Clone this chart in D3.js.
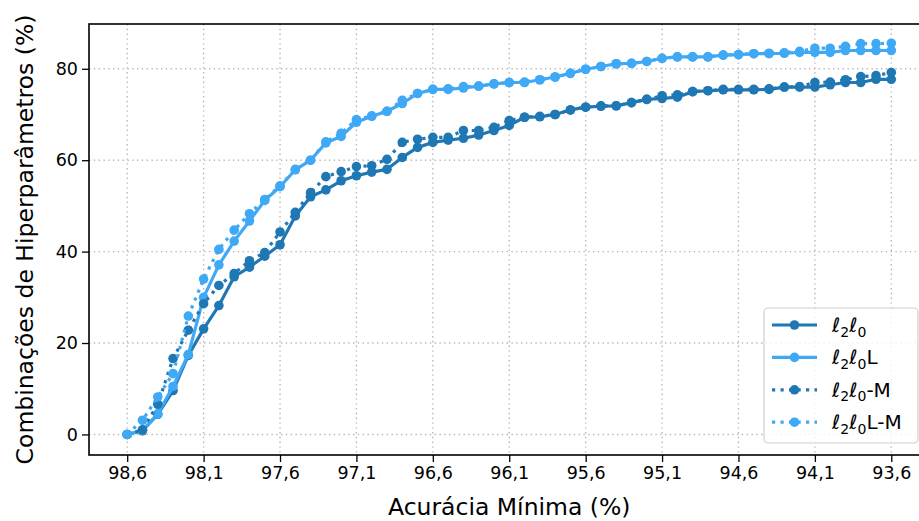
<!DOCTYPE html>
<html>
<head>
<meta charset="utf-8">
<script src="https://cdn.jsdelivr.net/npm/d3@7"></script>
<style>
  body { margin: 0; background: #fff; }
  svg { display: block; font-family: "DejaVu Sans", sans-serif; }
</style>
</head>
<body>
<svg id="chart" width="919" height="521"></svg>
<script>
// Minimum accuracy thresholds (%), one point per 0.1 step
const accuracy = [
  98.6, 98.5, 98.4, 98.3, 98.2, 98.1, 98.0, 97.9, 97.8, 97.7,
  97.6, 97.5, 97.4, 97.3, 97.2, 97.1, 97.0, 96.9, 96.8, 96.7,
  96.6, 96.5, 96.4, 96.3, 96.2, 96.1, 96.0, 95.9, 95.8, 95.7,
  95.6, 95.5, 95.4, 95.3, 95.2, 95.1, 95.0, 94.9, 94.8, 94.7,
  94.6, 94.5, 94.4, 94.3, 94.2, 94.1, 94.0, 93.9, 93.8, 93.7,
  93.6
];

// Share of hyperparameter combinations reaching each threshold (%)
const l2l0 = [
  0.0, 0.8, 4.4, 9.6, 17.3, 23.1, 28.2, 34.5, 36.6, 39.0,
  41.5, 47.8, 52.0, 53.5, 55.5, 56.6, 57.4, 58.0, 60.6, 62.8,
  63.9, 64.4, 64.8, 65.5, 66.5, 67.6, 69.4, 69.5, 70.0, 71.0,
  71.6, 71.8, 71.9, 72.6, 73.3, 73.5, 73.8, 75.0, 75.2, 75.4,
  75.4, 75.4, 75.5, 76.0, 76.0, 76.0, 76.5, 77.0, 77.0, 77.7,
  77.7
];
const l2l0L = [
  0.0, 0.9, 4.5, 10.5, 17.5, 30.0, 37.1, 42.3, 46.7, 51.2,
  54.2, 57.9, 60.0, 63.8, 65.2, 68.3, 69.6, 70.7, 72.4, 74.6,
  75.5, 75.5, 75.8, 76.2, 76.7, 77.0, 77.0, 77.6, 78.2, 79.0,
  79.9, 80.5, 81.1, 81.2, 81.6, 82.3, 82.6, 82.6, 82.6, 83.0,
  83.1, 83.3, 83.3, 83.4, 83.6, 83.6, 83.6, 84.0, 84.0, 84.0,
  84.0
];
const l2l0M = [
  0.0, 1.0, 6.6, 16.6, 22.8, 28.6, 32.6, 35.2, 38.0, 39.8,
  44.3, 48.6, 52.9, 56.4, 57.5, 58.6, 58.8, 60.2, 63.9, 64.6,
  65.0, 65.0, 66.5, 66.5, 67.2, 68.7, 69.4, 69.6, 70.0, 71.0,
  71.6, 71.9, 71.9, 72.6, 73.3, 74.1, 74.3, 75.0, 75.2, 75.5,
  75.5, 75.5, 75.6, 76.0, 76.1, 77.0, 77.1, 77.6, 78.3, 78.5,
  79.2
];
const l2l0LM = [
  0.0, 3.1, 8.2, 13.3, 25.9, 34.0, 40.5, 44.7, 48.3, 51.4,
  54.4, 58.0, 60.0, 64.0, 65.9, 68.9, 69.7, 70.7, 73.1, 74.6,
  75.5, 75.6, 76.1, 76.2, 76.7, 77.0, 77.1, 77.6, 78.2, 79.0,
  79.9, 80.5, 81.1, 81.2, 81.6, 82.3, 82.6, 82.6, 82.6, 83.0,
  83.1, 83.3, 83.4, 83.5, 83.8, 84.5, 84.5, 84.9, 85.5, 85.5,
  85.6
];

// Axis ticks
const xTicks = [98.6, 98.1, 97.6, 97.1, 96.6, 96.1, 95.6, 95.1, 94.6, 94.1, 93.6];
const xTickLabels = ["98,6", "98,1", "97,6", "97,1", "96,6", "96,1", "95,6", "95,1", "94,6", "94,1", "93,6"];
const yTicks = [0, 20, 40, 60, 80];

// Series labels (underscore marks the next character as a subscript)
const seriesNames = ["ℓ_2ℓ_0", "ℓ_2ℓ_0L", "ℓ_2ℓ_0-M", "ℓ_2ℓ_0L-M"];
const seriesValues = [l2l0, l2l0L, l2l0M, l2l0LM];
const seriesColors = ["#1f77b4", "#3fa9f5", "#1f77b4", "#3fa9f5"];
const seriesDotted = [false, false, true, true];

const svg = d3.select("#chart");
const frame = { left: 89, right: 929.5, top: 24, bottom: 455 };

const x = d3.scaleLinear().domain([98.85, 93.35]).range([frame.left, frame.right]);
const y = d3.scaleLinear().domain([-4.5, 89.8]).range([frame.bottom, frame.top]);

svg.append("defs").append("clipPath").attr("id", "plot-clip")
  .append("rect")
  .attr("x", frame.left).attr("y", frame.top)
  .attr("width", frame.right - frame.left).attr("height", frame.bottom - frame.top);

// Grid
const grid = svg.append("g").attr("stroke", "#b8b8b8").attr("stroke-width", 1.4)
  .attr("stroke-dasharray", "1.4,3.4");
grid.selectAll("line.v").data(xTicks).join("line").attr("class", "v")
  .attr("x1", d => x(d)).attr("x2", d => x(d))
  .attr("y1", frame.top).attr("y2", frame.bottom);
grid.selectAll("line.h").data(yTicks).join("line").attr("class", "h")
  .attr("x1", frame.left).attr("x2", frame.right)
  .attr("y1", d => y(d)).attr("y2", d => y(d));

// Series
const plot = svg.append("g").attr("clip-path", "url(#plot-clip)");
const line = d3.line().x((d, i) => x(accuracy[i])).y(d => y(d));

seriesValues.forEach((vals, k) => {
  const g = plot.append("g");
  g.append("path")
    .attr("d", line(vals))
    .attr("fill", "none")
    .attr("stroke", seriesColors[k])
    .attr("stroke-width", 3.2)
    .attr("stroke-dasharray", seriesDotted[k] ? "3.2,5.3" : null)
    .attr("stroke-linejoin", "round");
  g.selectAll("circle").data(vals).join("circle")
    .attr("cx", (d, i) => x(accuracy[i]))
    .attr("cy", d => y(d))
    .attr("r", 4.8)
    .attr("fill", seriesColors[k]);
});

// Axes
const xAxis = d3.axisBottom(x).tickValues(xTicks)
  .tickFormat((d, i) => xTickLabels[i]).tickSize(7).tickPadding(5);
const gx = svg.append("g").attr("transform", `translate(0,${frame.bottom})`).call(xAxis);
gx.select(".domain").remove();
gx.selectAll(".tick line").attr("stroke", "#000").attr("stroke-width", 1.3);
gx.selectAll(".tick text").attr("font-size", 17.5).attr("fill", "#000")
  .attr("font-family", "DejaVu Sans");

const yAxis = d3.axisLeft(y).tickValues(yTicks).tickSize(7).tickPadding(4);
const gy = svg.append("g").attr("transform", `translate(${frame.left},0)`).call(yAxis);
gy.select(".domain").remove();
gy.selectAll(".tick line").attr("stroke", "#000").attr("stroke-width", 1.3);
gy.selectAll(".tick text").attr("font-size", 17.5).attr("fill", "#000")
  .attr("font-family", "DejaVu Sans");

// Frame
svg.append("rect")
  .attr("x", frame.left).attr("y", frame.top)
  .attr("width", frame.right - frame.left).attr("height", frame.bottom - frame.top)
  .attr("fill", "none").attr("stroke", "#000").attr("stroke-width", 1.6);

// Axis titles
svg.append("text")
  .attr("x", (frame.left + frame.right) / 2).attr("y", 515)
  .attr("text-anchor", "middle").attr("font-size", 23.5)
  .text("Acurácia Mínima (%)");
svg.append("text")
  .attr("transform", `translate(33,${(frame.top + frame.bottom) / 2}) rotate(-90)`)
  .attr("text-anchor", "middle").attr("font-size", 23.5)
  .text("Combinações de Hiperparâmetros (%)");

// Legend
const legend = svg.append("g");
legend.append("rect")
  .attr("x", 764).attr("y", 308).attr("width", 154).attr("height", 135)
  .attr("rx", 4).attr("fill", "#fff").attr("fill-opacity", 0.8)
  .attr("stroke", "#d0d0d0").attr("stroke-width", 1.2);

seriesNames.forEach((name, k) => {
  const cy = 325 + k * 32.4;
  const row = legend.append("g");
  row.append("line")
    .attr("x1", 772).attr("x2", 817).attr("y1", cy).attr("y2", cy)
    .attr("stroke", seriesColors[k]).attr("stroke-width", 3.2)
    .attr("stroke-dasharray", seriesDotted[k] ? "3.2,5.3" : null);
  row.append("circle").attr("cx", 794.5).attr("cy", cy).attr("r", 4.8)
    .attr("fill", seriesColors[k]);
  const t = row.append("text").attr("x", 832).attr("y", cy + 7)
    .attr("font-size", 20).attr("fill", "#000");
  // Group characters into runs: normal text and single-character subscripts
  let sub = false, shifted = false, run = "";
  const flush = () => {
    if (!run) return;
    const ts = t.append("tspan").text(run);
    if (shifted) { ts.attr("dy", -4.5); shifted = false; }
    run = "";
  };
  for (const ch of name) {
    if (ch === "_") { sub = true; continue; }
    if (sub) {
      flush();
      const ts = t.append("tspan").attr("font-size", 14).text(ch);
      ts.attr("dy", shifted ? 0 : 4.5);
      shifted = true;
      sub = false;
    } else {
      run += ch;
    }
  }
  flush();
});
</script>
</body>
</html>
